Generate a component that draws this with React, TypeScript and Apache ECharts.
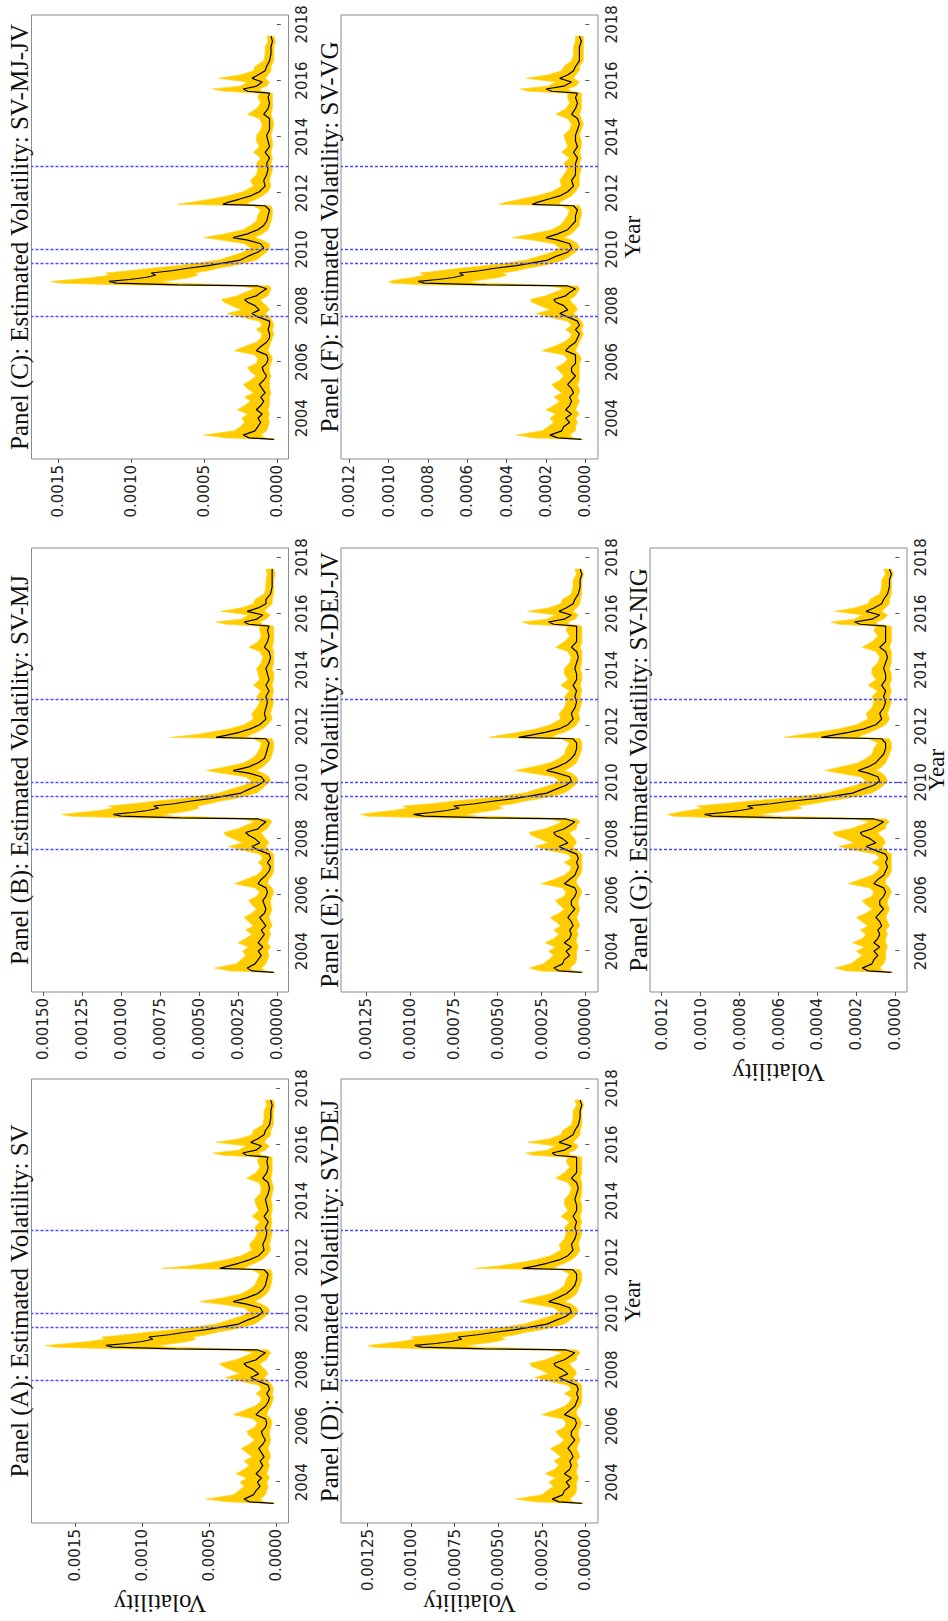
import React, { useEffect, useRef } from "react";
import * as echarts from "echarts";

// values in units of 1e-5
const UNIT = 1e-5;

const T = [
  2003.25, 2003.3, 2003.4, 2003.55, 2003.7, 2003.85, 2004.0, 2004.15, 2004.3, 2004.45,
  2004.6, 2004.75, 2004.9, 2005.05, 2005.2, 2005.35, 2005.5, 2005.65, 2005.8, 2005.95,
  2006.1, 2006.25, 2006.4, 2006.55, 2006.7, 2006.85, 2007.0, 2007.15, 2007.3, 2007.45,
  2007.6, 2007.72, 2007.85, 2008.0, 2008.12, 2008.22, 2008.35, 2008.47, 2008.6, 2008.7,
  2008.74, 2008.8, 2008.86, 2008.93, 2009.0, 2009.08, 2009.16, 2009.24, 2009.33, 2009.42,
  2009.52, 2009.62, 2009.75, 2009.9, 2010.05, 2010.2, 2010.33, 2010.42, 2010.55, 2010.7,
  2010.85, 2011.0, 2011.2, 2011.4, 2011.55, 2011.6, 2011.68, 2011.78, 2011.9, 2012.05,
  2012.25, 2012.45, 2012.65, 2012.85, 2013.05, 2013.25, 2013.45, 2013.65, 2013.85, 2014.05,
  2014.25, 2014.45, 2014.65, 2014.8, 2015.0, 2015.2, 2015.4, 2015.55, 2015.62, 2015.7,
  2015.8, 2015.95, 2016.08, 2016.2, 2016.35, 2016.5, 2016.7, 2016.95, 2017.2, 2017.4,
  2017.58,
];

const YEAR_TICKS = [2004, 2006, 2008, 2010, 2012, 2014, 2016, 2018];
const BREAKS = [2007.62, 2009.5, 2010.0, 2012.95];

// Panel A: SV
const A_MID = [
  2, 20, 24, 17, 15, 12, 14, 11, 15, 12,
  10, 12, 9, 11, 13, 10, 8, 10, 11, 8,
  7, 8, 15, 12, 8, 6, 5, 7, 5, 6,
  14, 19, 13, 17, 22, 24, 15, 12, 8, 14,
  75, 122, 127, 112, 100, 92, 95, 80, 68, 52,
  40, 28, 22, 14, 10, 12, 22, 32, 22, 14,
  10, 8, 7, 6, 9, 42, 36, 28, 20, 13,
  9, 10, 8, 7, 8, 6, 9, 6, 7, 8,
  6, 5, 6, 10, 7, 6, 7, 6, 22, 25,
  15, 11, 19, 14, 9, 8, 5, 4, 4, 3,
  4,
];
const A_HI = [
  6, 36, 52, 32, 28, 24, 27, 22, 30, 24,
  20, 24, 18, 22, 26, 20, 16, 20, 22, 16,
  14, 17, 32, 24, 16, 12, 11, 15, 11, 13,
  28, 38, 27, 34, 40, 42, 30, 24, 17, 27,
  120, 165, 172, 155, 140, 128, 130, 112, 96, 76,
  60, 45, 36, 26, 20, 24, 42, 57, 40, 26,
  20, 16, 14, 12, 18, 85, 66, 52, 38, 26,
  18, 20, 16, 14, 16, 12, 18, 13, 15, 16,
  12, 11, 13, 22, 15, 12, 14, 13, 40, 47,
  28, 22, 45, 28, 18, 17, 10, 9, 9, 7,
  8,
];
const A_LO = [
  1, 9, 12, 8, 7, 6, 7, 5, 7, 6,
  5, 6, 4, 5, 6, 5, 4, 5, 5, 4,
  3, 4, 7, 6, 4, 3, 2, 3, 2, 3,
  6, 9, 6, 8, 11, 12, 7, 6, 4, 6,
  35, 80, 88, 76, 66, 60, 62, 52, 44, 33,
  24, 16, 12, 8, 5, 6, 11, 16, 11, 7,
  5, 4, 3, 3, 4, 24, 21, 16, 11, 7,
  4, 5, 4, 3, 4, 3, 4, 3, 3, 4,
  3, 2, 3, 4, 3, 3, 3, 3, 11, 13,
  8, 5, 9, 7, 4, 4, 2, 2, 2, 1,
  2,
];

// Panel B: SV-MJ
const B_MID = [
  2, 16, 19, 14, 12, 10, 12, 9, 12, 10,
  8, 10, 7, 9, 11, 8, 7, 8, 9, 7,
  6, 7, 12, 10, 7, 5, 4, 6, 4, 5,
  12, 16, 11, 14, 18, 20, 12, 10, 7, 12,
  62, 100, 105, 93, 83, 76, 79, 66, 56, 43,
  33, 23, 18, 12, 8, 10, 18, 28, 18, 12,
  8, 7, 6, 5, 7, 39, 32, 24, 17, 11,
  7, 8, 7, 6, 7, 5, 7, 5, 6, 7,
  5, 4, 5, 8, 6, 5, 6, 5, 18, 21,
  13, 9, 19, 12, 7, 7, 4, 3, 3, 3,
  3,
];
const B_HI = [
  5, 30, 40, 26, 23, 20, 22, 18, 25, 20,
  16, 20, 15, 18, 21, 16, 13, 16, 18, 13,
  11, 14, 27, 20, 13, 10, 9, 12, 9, 11,
  23, 31, 22, 28, 33, 34, 25, 20, 14, 22,
  98, 132, 138, 126, 114, 105, 108, 92, 79, 62,
  49, 37, 30, 21, 16, 20, 36, 45, 33, 21,
  16, 13, 11, 10, 15, 68, 54, 43, 31, 21,
  15, 16, 13, 11, 13, 10, 15, 11, 12, 13,
  10, 9, 11, 18, 12, 10, 11, 11, 33, 39,
  23, 18, 36, 23, 15, 14, 8, 7, 7, 6,
  7,
];
const B_LO = [
  1, 7, 10, 7, 6, 5, 6, 4, 6, 5,
  4, 5, 3, 4, 5, 4, 3, 4, 4, 3,
  2, 3, 6, 5, 3, 2, 2, 2, 2, 2,
  5, 7, 5, 7, 9, 10, 6, 5, 3, 5,
  29, 66, 73, 63, 55, 50, 51, 43, 37, 27,
  20, 13, 10, 7, 4, 5, 9, 13, 9, 6,
  4, 3, 2, 2, 3, 20, 17, 13, 9, 6,
  3, 4, 3, 2, 3, 2, 3, 2, 2, 3,
  2, 2, 2, 3, 2, 2, 2, 2, 9, 11,
  7, 4, 8, 6, 3, 3, 2, 2, 2, 1,
  2,
];

// Panel C: SV-MJ-JV
const C_MID = [
  2, 19, 23, 15, 13, 11, 13, 10, 14, 11,
  9, 11, 8, 10, 12, 9, 7, 9, 10, 7,
  6, 7, 14, 11, 7, 5, 5, 6, 5, 5,
  13, 17, 12, 15, 20, 22, 14, 11, 7, 13,
  68, 110, 115, 101, 90, 83, 86, 72, 61, 47,
  36, 25, 20, 13, 9, 11, 20, 30, 20, 13,
  9, 7, 6, 5, 8, 37, 33, 26, 18, 12,
  8, 9, 7, 6, 7, 5, 8, 5, 6, 7,
  5, 5, 5, 9, 6, 5, 6, 5, 20, 23,
  14, 10, 17, 13, 8, 7, 5, 4, 4, 3,
  4,
];
const C_HI = [
  6, 34, 50, 29, 25, 22, 24, 20, 27, 22,
  18, 22, 16, 20, 23, 18, 14, 18, 20, 14,
  13, 15, 29, 22, 14, 11, 10, 14, 10, 12,
  25, 34, 24, 31, 36, 38, 27, 22, 15, 24,
  108, 148, 155, 140, 126, 115, 117, 101, 86, 68,
  54, 40, 32, 23, 18, 22, 38, 50, 36, 23,
  18, 14, 13, 11, 16, 68, 58, 46, 34, 23,
  16, 18, 14, 13, 14, 11, 16, 12, 14, 14,
  11, 10, 12, 20, 14, 11, 13, 12, 36, 44,
  25, 20, 40, 25, 16, 15, 9, 8, 8, 6,
  7,
];
const C_LO = [
  1, 8, 11, 7, 6, 5, 6, 5, 6, 5,
  5, 5, 4, 5, 5, 5, 4, 5, 5, 4,
  3, 4, 6, 5, 4, 3, 2, 3, 2, 3,
  5, 8, 5, 7, 10, 11, 6, 5, 4, 5,
  32, 72, 79, 68, 59, 54, 56, 47, 40, 30,
  22, 14, 11, 7, 5, 5, 10, 15, 10, 6,
  5, 4, 3, 3, 4, 20, 19, 14, 10, 6,
  4, 5, 4, 3, 4, 3, 4, 3, 3, 4,
  3, 2, 3, 4, 3, 3, 3, 3, 10, 12,
  7, 5, 8, 6, 4, 4, 2, 2, 2, 1,
  2,
];

// Panel D: SV-DEJ
const D_MID = [
  2, 15, 19, 13, 12, 9, 11, 8, 12, 9,
  8, 9, 7, 8, 10, 8, 6, 8, 8, 6,
  5, 6, 12, 9, 6, 5, 4, 5, 4, 5,
  11, 15, 10, 13, 17, 18, 12, 9, 6, 11,
  58, 94, 98, 86, 77, 71, 73, 62, 52, 40,
  31, 22, 17, 11, 8, 9, 15, 21, 16, 11,
  8, 6, 5, 5, 7, 36, 29, 22, 15, 10,
  7, 8, 6, 5, 6, 5, 7, 5, 5, 6,
  5, 4, 5, 8, 5, 5, 5, 5, 17, 19,
  12, 8, 15, 11, 7, 6, 4, 3, 3, 2,
  3,
];
const D_HI = [
  5, 28, 40, 25, 22, 18, 21, 17, 23, 18,
  15, 18, 14, 17, 20, 15, 12, 15, 17, 12,
  11, 13, 25, 18, 12, 9, 8, 12, 8, 10,
  22, 29, 21, 26, 31, 32, 23, 18, 13, 21,
  92, 122, 125, 115, 106, 98, 100, 86, 74, 58,
  46, 35, 28, 20, 15, 18, 30, 38, 30, 20,
  15, 12, 11, 9, 14, 63, 50, 40, 29, 20,
  14, 15, 12, 11, 12, 9, 14, 10, 12, 12,
  9, 8, 10, 17, 12, 9, 11, 10, 30, 34,
  22, 17, 33, 21, 14, 13, 8, 7, 7, 5,
  6,
];
const D_LO = [
  1, 7, 9, 6, 5, 5, 5, 4, 5, 5,
  4, 5, 3, 4, 5, 4, 3, 4, 4, 3,
  2, 3, 5, 5, 3, 2, 2, 2, 2, 2,
  5, 7, 5, 6, 8, 9, 5, 5, 3, 5,
  27, 62, 68, 59, 51, 46, 48, 40, 34, 25,
  18, 12, 9, 6, 4, 5, 8, 12, 8, 5,
  4, 3, 2, 2, 3, 18, 16, 12, 8, 5,
  3, 4, 3, 2, 3, 2, 3, 2, 2, 3,
  2, 2, 2, 3, 2, 2, 2, 2, 8, 10,
  6, 4, 7, 5, 3, 3, 2, 2, 2, 1,
  2,
];

// Panel E: SV-DEJ-JV
const E_MID = [
  2, 15, 18, 13, 12, 9, 11, 8, 12, 9,
  8, 9, 7, 8, 10, 8, 6, 8, 8, 6,
  5, 6, 12, 9, 6, 5, 4, 5, 4, 5,
  11, 15, 10, 13, 17, 18, 12, 9, 6, 11,
  56, 92, 98, 88, 79, 72, 75, 63, 53, 41,
  31, 22, 17, 11, 8, 9, 16, 22, 16, 11,
  8, 6, 5, 5, 7, 38, 31, 23, 15, 10,
  7, 8, 6, 5, 6, 5, 7, 5, 5, 6,
  5, 4, 5, 8, 5, 5, 5, 5, 18, 21,
  12, 8, 15, 11, 7, 6, 4, 3, 3, 2,
  3,
];
const E_HI = [
  5, 26, 32, 24, 21, 18, 21, 17, 23, 18,
  15, 18, 14, 17, 20, 15, 12, 15, 17, 12,
  11, 13, 25, 18, 12, 9, 8, 12, 8, 10,
  22, 29, 21, 26, 31, 32, 23, 18, 13, 21,
  90, 124, 128, 120, 110, 101, 104, 88, 76, 60,
  47, 35, 28, 20, 15, 18, 31, 40, 30, 20,
  15, 12, 11, 9, 14, 55, 48, 38, 28, 20,
  14, 15, 12, 11, 12, 9, 14, 10, 12, 12,
  9, 8, 10, 17, 12, 9, 11, 10, 32, 36,
  22, 17, 33, 21, 14, 13, 8, 7, 7, 5,
  6,
];
const E_LO = [
  1, 7, 9, 6, 5, 5, 5, 4, 5, 5,
  4, 5, 3, 4, 5, 4, 3, 4, 4, 3,
  2, 3, 5, 5, 3, 2, 2, 2, 2, 2,
  5, 7, 5, 6, 8, 9, 5, 5, 3, 5,
  26, 61, 68, 61, 53, 47, 50, 41, 35, 26,
  18, 12, 9, 6, 4, 5, 8, 12, 8, 5,
  4, 3, 2, 2, 3, 19, 17, 12, 8, 5,
  3, 4, 3, 2, 3, 2, 3, 2, 2, 3,
  2, 2, 2, 3, 2, 2, 2, 2, 9, 10,
  6, 4, 7, 5, 3, 3, 2, 2, 2, 1,
  2,
];

// Panel F: SV-VG
const F_MID = [
  2, 14, 18, 12, 11, 8, 10, 7, 10, 8,
  7, 8, 6, 7, 9, 7, 5, 7, 7, 5,
  5, 5, 10, 8, 5, 4, 3, 5, 3, 4,
  9, 13, 9, 11, 15, 16, 10, 8, 5, 9,
  50, 82, 85, 75, 67, 62, 64, 54, 46, 35,
  27, 19, 15, 9, 7, 8, 14, 20, 14, 9,
  7, 5, 5, 4, 6, 27, 24, 19, 13, 9,
  6, 7, 5, 5, 5, 4, 6, 4, 5, 5,
  4, 3, 4, 7, 5, 4, 5, 4, 17, 20,
  11, 7, 13, 9, 6, 5, 3, 3, 3, 2,
  3,
];
const F_HI = [
  5, 26, 35, 22, 19, 16, 18, 15, 20, 16,
  13, 16, 12, 15, 17, 13, 11, 13, 15, 11,
  9, 11, 22, 16, 11, 8, 7, 10, 7, 9,
  19, 25, 18, 23, 27, 28, 20, 16, 11, 18,
  82, 98, 100, 95, 88, 82, 84, 74, 64, 51,
  40, 30, 24, 17, 13, 16, 27, 37, 27, 17,
  13, 11, 9, 8, 12, 44, 40, 33, 25, 17,
  12, 13, 11, 9, 11, 8, 12, 9, 10, 11,
  8, 7, 9, 15, 10, 8, 9, 9, 29, 33,
  19, 15, 30, 19, 12, 11, 7, 6, 6, 5,
  5,
];
const F_LO = [
  1, 6, 8, 5, 5, 4, 5, 3, 5, 4,
  3, 4, 3, 3, 4, 3, 3, 3, 3, 3,
  2, 3, 5, 4, 3, 2, 1, 2, 1, 2,
  4, 6, 4, 5, 7, 8, 5, 4, 3, 4,
  23, 54, 59, 51, 44, 40, 42, 35, 29, 22,
  16, 11, 8, 5, 3, 4, 7, 11, 7, 5,
  3, 3, 2, 2, 3, 13, 13, 10, 7, 5,
  3, 3, 3, 2, 3, 2, 3, 2, 2, 3,
  2, 1, 2, 3, 2, 2, 2, 2, 7, 9,
  5, 3, 6, 5, 3, 3, 1, 1, 1, 1,
  1,
];

// Panel G: SV-NIG
const G_MID = [
  2, 14, 17, 12, 11, 9, 11, 8, 11, 9,
  8, 9, 7, 8, 10, 8, 6, 8, 8, 6,
  5, 6, 11, 9, 6, 5, 4, 5, 4, 5,
  11, 15, 10, 13, 17, 18, 12, 9, 6, 11,
  58, 94, 98, 88, 80, 73, 76, 64, 54, 41,
  31, 22, 17, 11, 8, 9, 14, 19, 14, 10,
  8, 6, 5, 5, 7, 38, 32, 24, 16, 10,
  7, 8, 6, 5, 6, 5, 7, 5, 5, 6,
  5, 4, 5, 8, 5, 5, 5, 5, 18, 21,
  12, 8, 15, 11, 7, 6, 4, 3, 3, 2,
  3,
];
const G_HI = [
  5, 25, 31, 23, 20, 17, 20, 16, 22, 17,
  15, 18, 14, 17, 20, 15, 12, 15, 17, 12,
  11, 13, 24, 18, 12, 9, 8, 12, 8, 10,
  22, 29, 21, 26, 31, 32, 23, 18, 13, 21,
  92, 114, 117, 112, 106, 99, 102, 88, 76, 60,
  47, 35, 28, 20, 15, 18, 29, 36, 28, 19,
  15, 12, 11, 9, 14, 57, 50, 40, 29, 20,
  14, 15, 12, 11, 12, 9, 14, 10, 12, 12,
  9, 8, 10, 17, 12, 9, 11, 10, 29, 33,
  21, 17, 31, 21, 14, 13, 8, 7, 7, 5,
  6,
];
const G_LO = [
  1, 6, 8, 6, 5, 5, 5, 4, 5, 5,
  4, 5, 3, 4, 5, 4, 3, 4, 4, 3,
  2, 3, 5, 5, 3, 2, 2, 2, 2, 2,
  5, 7, 5, 6, 8, 9, 5, 5, 3, 5,
  27, 62, 70, 62, 54, 48, 50, 42, 35, 26,
  18, 12, 9, 6, 4, 5, 7, 10, 7, 5,
  4, 3, 2, 2, 3, 19, 17, 13, 9, 5,
  3, 4, 3, 2, 3, 2, 3, 2, 2, 3,
  2, 2, 2, 3, 2, 2, 2, 2, 9, 10,
  6, 4, 7, 5, 3, 3, 2, 2, 2, 1,
  2,
];

const TICKS_05 = [0, 0.0005, 0.001, 0.0015];
const TICKS_025_150 = [0, 0.00025, 0.0005, 0.00075, 0.001, 0.00125, 0.0015];
const TICKS_025_125 = [0, 0.00025, 0.0005, 0.00075, 0.001, 0.00125];
const TICKS_02 = [0, 0.0002, 0.0004, 0.0006, 0.0008, 0.001, 0.0012];

const TITLES = [
  "Panel (A): Estimated Volatility: SV",
  "Panel (B): Estimated Volatility: SV-MJ",
  "Panel (C): Estimated Volatility: SV-MJ-JV",
  "Panel (D): Estimated Volatility: SV-DEJ",
  "Panel (E): Estimated Volatility: SV-DEJ-JV",
  "Panel (F): Estimated Volatility: SV-VG",
  "Panel (G): Estimated Volatility: SV-NIG",
];

const PANELS = [
  { mid: A_MID, hi: A_HI, lo: A_LO, yMin: -0.000092, yMax: 0.001825, ticks: TICKS_05, dec: 4, row: 0, col: 0, yName: true, xName: 0 },
  { mid: B_MID, hi: B_HI, lo: B_LO, yMin: -0.000075, yMax: 0.001575, ticks: TICKS_025_150, dec: 5, row: 0, col: 1, yName: false, xName: 0 },
  { mid: C_MID, hi: C_HI, lo: C_LO, yMin: -0.00008, yMax: 0.00168, ticks: TICKS_05, dec: 4, row: 0, col: 2, yName: false, xName: 0 },
  { mid: D_MID, hi: D_HI, lo: D_LO, yMin: -0.000073, yMax: 0.001403, ticks: TICKS_025_125, dec: 5, row: 1, col: 0, yName: true, xName: 34 },
  { mid: E_MID, hi: E_HI, lo: E_LO, yMin: -0.000072, yMax: 0.001393, ticks: TICKS_025_125, dec: 5, row: 1, col: 1, yName: false, xName: 0 },
  { mid: F_MID, hi: F_HI, lo: F_LO, yMin: -0.0000645, yMax: 0.0012425, ticks: TICKS_02, dec: 4, row: 1, col: 2, yName: false, xName: 34 },
  { mid: G_MID, hi: G_HI, lo: G_LO, yMin: -0.00006, yMax: 0.00126, ticks: TICKS_02, dec: 4, row: 2, col: 1, yName: true, xName: 29 },
];

// layout of the upright (landscape) figure, which is then turned a quarter turn
const FIG_W = 1621;
const FIG_H = 948;
const GRID_LEFT = [98, 629, 1162];
const GRID_TOP = [31.5, 341, 650];
const GRID_W = 444;
const GRID_H = 257;
const X_MIN = 2002.55;
const X_MAX = 2018.33;

const GOLD = "#FFCC00";
const SERIF = "Liberation Serif, Times New Roman, serif";
const SANS = "DejaVu Sans, sans-serif";

function buildOption() {
  const grid: any[] = [];
  const xAxis: any[] = [];
  const yAxis: any[] = [];
  const series: any[] = [];
  const graphic: any[] = [];

  PANELS.forEach((p, i) => {
    const left = GRID_LEFT[p.col];
    const top = GRID_TOP[p.row];
    grid.push({
      left,
      top,
      width: GRID_W,
      height: GRID_H,
      show: true,
      borderColor: "#8c8c8c",
      borderWidth: 1,
      backgroundColor: "transparent",
      containLabel: false,
    });
    xAxis.push({
      type: "value",
      gridIndex: i,
      min: X_MIN,
      max: X_MAX,
      axisLine: { show: false },
      splitLine: { show: false },
      axisTick: {
        show: true,
        customValues: YEAR_TICKS,
        length: 4,
        lineStyle: { color: "#555", width: 1 },
      },
      axisLabel: {
        customValues: YEAR_TICKS,
        formatter: (v: number) => String(Math.round(v)),
        fontSize: 15,
        fontFamily: SANS,
        color: "#222",
        margin: 6,
      },
    });
    yAxis.push({
      type: "value",
      gridIndex: i,
      min: p.yMin,
      max: p.yMax,
      axisLine: { show: false },
      splitLine: { show: false },
      axisTick: {
        show: true,
        customValues: p.ticks,
        length: 4,
        lineStyle: { color: "#555", width: 1 },
      },
      axisLabel: {
        customValues: p.ticks,
        formatter: (v: number) => v.toFixed(p.dec),
        fontSize: 15,
        fontFamily: SANS,
        color: "#222",
        margin: 6,
      },
    });

    // yellow band between the lower and upper envelopes
    series.push({
      type: "custom",
      xAxisIndex: i,
      yAxisIndex: i,
      coordinateSystem: "cartesian2d",
      silent: true,
      z: 1,
      data: [[T[0], 0]],
      renderItem: (_params: any, api: any) => {
        const pts: number[][] = [];
        for (let j = 0; j < T.length; j++) pts.push(api.coord([T[j], p.hi[j] * UNIT]));
        for (let j = T.length - 1; j >= 0; j--) pts.push(api.coord([T[j], p.lo[j] * UNIT]));
        return {
          type: "polygon",
          shape: { points: pts },
          style: { fill: GOLD, stroke: "#FFD633", lineWidth: 0.8 },
        };
      },
    });
    series.push({
      type: "line",
      xAxisIndex: i,
      yAxisIndex: i,
      symbol: "none",
      silent: true,
      lineStyle: { width: 1.2, color: "#000" },
      data: T.map((t, j) => [t, p.mid[j] * UNIT]),
      z: 3,
      markLine: {
        silent: true,
        symbol: ["none", "none"],
        label: { show: false },
        lineStyle: { color: "#4d4dff", type: [3, 2], width: 1.3 },
        data: BREAKS.map((b) => ({ xAxis: b })),
      },
    });

    graphic.push({
      type: "text",
      x: left + GRID_W / 2,
      y: top - 12,
      style: {
        text: TITLES[i],
        fontSize: 25,
        fontFamily: SERIF,
        fill: "#111",
        align: "center",
        verticalAlign: "middle",
        textAlign: "center",
        textVerticalAlign: "middle",
      },
    });
    if (p.yName) {
      graphic.push({
        type: "text",
        x: left - 80,
        y: top + GRID_H / 2,
        rotation: Math.PI / 2,
        style: {
          text: "Volatility",
          fontSize: 25,
          fontFamily: SERIF,
          fill: "#111",
          align: "center",
          verticalAlign: "middle",
          textAlign: "center",
          textVerticalAlign: "middle",
        },
      });
    }
    if (p.xName) {
      graphic.push({
        type: "text",
        x: left + GRID_W / 2,
        y: top + GRID_H + p.xName,
        style: {
          text: "Year",
          fontSize: 23,
          fontFamily: SERIF,
          fill: "#111",
          align: "center",
          verticalAlign: "middle",
          textAlign: "center",
          textVerticalAlign: "middle",
        },
      });
    }
  });

  return {
    animation: false,
    backgroundColor: "#ffffff",
    grid,
    xAxis,
    yAxis,
    series,
    graphic,
  };
}

export default function App() {
  const ref = useRef<HTMLDivElement>(null);
  useEffect(() => {
    if (!ref.current) return;
    const chart = echarts.init(ref.current, undefined, {
      renderer: "svg",
      width: FIG_W,
      height: FIG_H,
    });
    chart.setOption(buildOption());
    return () => chart.dispose();
  }, []);
  return (
    <div
      style={{
        position: "absolute",
        left: 0,
        top: 0,
        width: FIG_H,
        height: FIG_W,
        overflow: "hidden",
        background: "#fff",
      }}
    >
      <div
        ref={ref}
        style={{
          position: "absolute",
          left: 0,
          top: 0,
          width: FIG_W,
          height: FIG_H,
          transformOrigin: "0 0",
          transform: `translateY(${FIG_W}px) rotate(-90deg)`,
        }}
      />
    </div>
  );
}
